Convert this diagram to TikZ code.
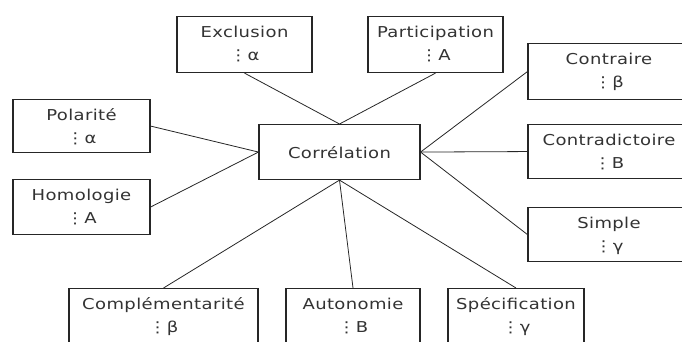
\documentclass[tikz,border=0pt]{standalone}
\usepackage{fontspec}
\setmainfont[FakeStretch=1.2,LetterSpace=2.5]{DejaVu Sans}
\newcommand{\vd}{\char"22EE\hspace{0.02em}}
\newcommand{\twoline}[7]{%
  \node[ubox, minimum width=#4pt, minimum height=#5pt, anchor=north] (#1) at (#2,#3) {};
  \node[lbl, anchor=base] (#1-a) at ([yshift=-21.5pt]#1.north) {#6};
  \node[lbl, anchor=base] (#1-b) at ([yshift=-44.5pt]#1.north) {#7};
}
\tikzset{
  ubox/.style={draw=black!85, line width=1.1pt, inner sep=0pt, fill=white},
  lbl/.style={inner sep=0pt, font=\fontsize{15}{18}\selectfont, text=black!80},
  conn/.style={draw=black!85, line width=0.8pt},
}
\begin{document}
\begin{tikzpicture}[x=1pt,y=-1pt]
\useasboundingbox (0,0) rectangle (682,341);
\clip (0,0) rectangle (682,341);
% centre
\node[ubox, minimum width=161pt, minimum height=55pt, anchor=north] (corr) at (339.5,124) {};
\node[lbl, anchor=base] (corr-a) at ([yshift=-34pt]corr.north) {Corrélation};
% boxes
\twoline{excl}{244.5}{16}{135}{56}{Exclusion}{\vd α}
\twoline{part}{435.5}{16}{135}{56}{Participation}{\vd A}
\twoline{pol}{81.5}{99}{137}{53}{Polarité}{\vd α}
\twoline{hom}{81.5}{179}{137}{55}{Homologie}{\vd A}
\twoline{ctr}{609}{43}{162}{56}{Contraire}{\vd β}
\twoline{ctd}{609}{124}{162}{54}{Contradictoire}{\vd B}
\twoline{smp}{609}{207}{162}{54}{Simple}{\vd γ}
\twoline{cpl}{163.5}{288}{189}{56}{Complémentarité}{\vd β}
\twoline{aut}{353}{288}{134}{56}{Autonomie}{\vd B}
\twoline{spc}{516}{288}{136}{56}{Spécification}{\vd γ}
% connectors
\draw[conn] (excl.south) -- (corr.north);
\draw[conn] (part.south) -- (corr.north);
\draw[conn] (pol.east) -- (corr.west);
\draw[conn] (hom.east) -- (corr.west);
\draw[conn] (cpl.north) -- (corr.south);
\draw[conn] (aut.north) -- (corr.south);
\draw[conn] (spc.north) -- (corr.south);
\draw[conn] (corr.east) -- (ctr.west);
\draw[conn] (corr.east) -- (ctd.west);
\draw[conn] (corr.east) -- (smp.west);
\end{tikzpicture}
\end{document}
